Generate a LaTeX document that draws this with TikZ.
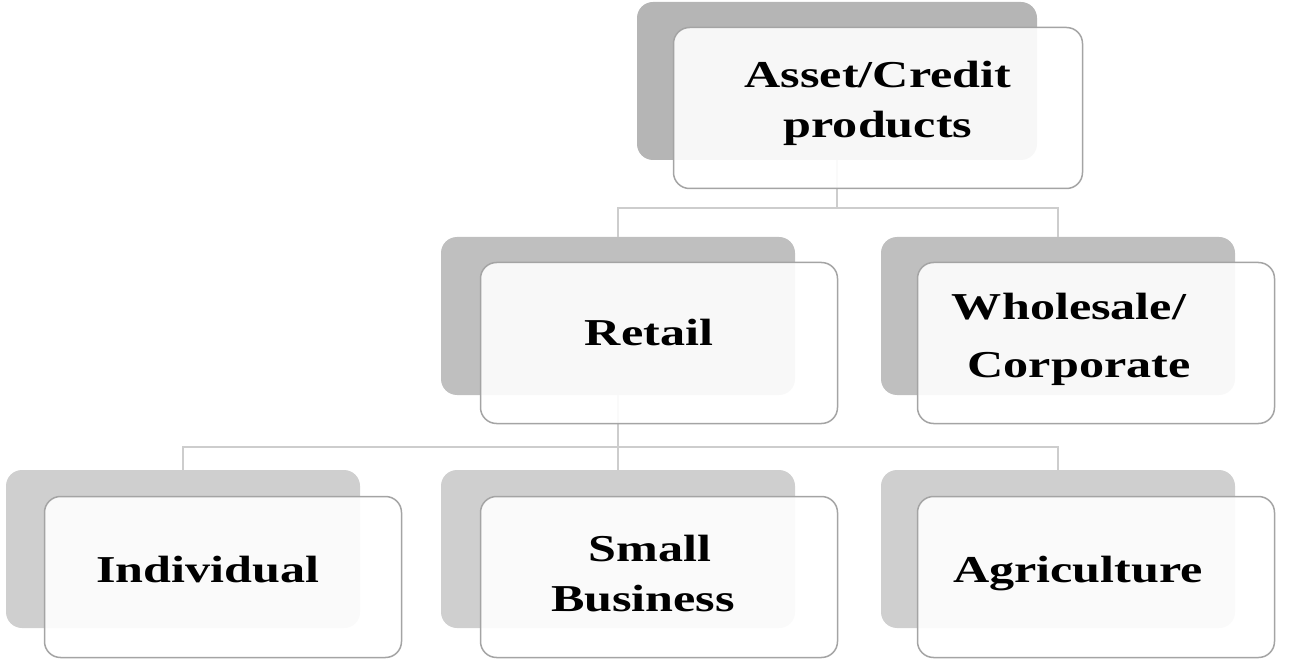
\documentclass[tikz,border=0pt]{standalone}
\usepackage{fontspec}
\setmainfont[FakeStretch=1.32]{Liberation Serif}
\usetikzlibrary{positioning}

\definecolor{shadeA}{HTML}{B5B5B5}
\definecolor{shadeB}{HTML}{BFBFBF}
\definecolor{shadeC}{HTML}{CFCFCF}
\definecolor{rimgray}{HTML}{A4A4A4}
\definecolor{linkgray}{HTML}{CDCDCD}

\begin{document}
\begin{tikzpicture}[x=1pt,y=-1pt,
                    back/.style={rounded corners=16pt,fill=#1,inner sep=0pt,
                                 minimum width=354pt,minimum height=158pt},
                    card/.style={rounded corners=16pt,draw=rimgray,line width=1.5pt,
                                 fill=white,fill opacity=0.9,inner sep=0pt,
                                 minimum width=357pt,minimum height=161pt},
                    caption/.style={align=center,font=\fontsize{38}{50}\selectfont\bfseries},
                    link/.style={draw=linkgray,line width=2.2pt}]
  \useasboundingbox (0,0) rectangle (1291,660);

  % grey backing shapes, the tree hangs off these
  \node[back=shadeA,minimum width=400pt] (credit)     at (837,81)   {};
  \node[back=shadeB]                     (retail)     at (618,316)  {};
  \node[back=shadeB]                     (wholesale)  at (1058,316) {};
  \node[back=shadeC]                     (individual) at (183,549)  {};
  \node[back=shadeC]                     (business)   at (618,549)  {};
  \node[back=shadeC]                     (farming)    at (1058,549) {};

  % connectors
  \draw[link] (credit.south) -- ++(0,48) -| (retail.north);
  \draw[link] (credit.south) -- ++(0,48) -| (wholesale.north);
  \draw[link] (retail.south) -- ++(0,52) -| (individual.north);
  \draw[link] (retail.south) -- ++(0,52) -| (business.north);
  \draw[link] (retail.south) -- ++(0,52) -| (farming.north);

  % white cards in front
  \node[card,minimum width=409pt] (credit card)     at ([shift={(41,27)}]credit.center)     {};
  \node[card]                     (retail card)     at ([shift={(41,27)}]retail.center)     {};
  \node[card]                     (wholesale card)  at ([shift={(38,27)}]wholesale.center)  {};
  \node[card]                     (individual card) at ([shift={(40,28)}]individual.center) {};
  \node[card]                     (business card)   at ([shift={(41,28)}]business.center)   {};
  \node[card]                     (farming card)    at ([shift={(38,28)}]farming.center)    {};

  % labels
  \node[caption] (credit text)     at ([shift={(0,-5)}]credit card.center)      {Asset/Credit\\products};
  \node[caption] (retail text)     at ([shift={(-10,-10)}]retail card.center)   {Retail};
  \node[caption,font=\fontsize{38}{58}\selectfont\bfseries]
                 (wholesale text)  at ([shift={(-27,-4)}]wholesale card.center) {Wholesale/\\\hspace{20pt}Corporate};
  \node[caption] (individual text) at ([shift={(-15,-7)}]individual card.center) {Individual};
  \node[caption] (business text)   at ([shift={(-16,-3)}]business card.center)  {\hspace{14pt}Small\\Business};
  \node[caption] (farming text)    at ([shift={(-18,-3)}]farming card.center)   {Agriculture};
\end{tikzpicture}
\end{document}
